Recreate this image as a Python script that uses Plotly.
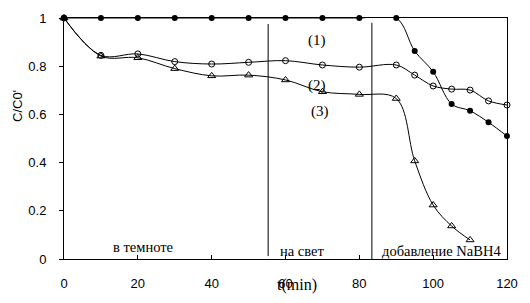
import plotly.graph_objects as go

t1 = [0, 10, 20, 30, 40, 50, 60, 70, 80, 90, 95, 100, 105, 110, 115, 120]
c1 = [1, 1, 1, 1, 1, 1, 1, 1, 1, 1, 0.863, 0.777, 0.643, 0.615, 0.567, 0.51]
t2 = [0, 10, 20, 30, 40, 50, 60, 70, 80, 90, 95, 100, 105, 110, 115, 120]
c2 = [1, 0.845, 0.851, 0.819, 0.809, 0.816, 0.823, 0.805, 0.796, 0.805, 0.763, 0.718, 0.705, 0.701, 0.656, 0.639]
t3 = [0, 10, 20, 30, 40, 50, 60, 70, 80, 90, 95, 100, 105, 110]
c3 = [1, 0.842, 0.835, 0.79, 0.76, 0.763, 0.743, 0.694, 0.683, 0.666, 0.407, 0.224, 0.137, 0.079]

x_ticks = [0, 20, 40, 60, 80, 100, 120]
y_ticks = [0, 0.2, 0.4, 0.6, 0.8, 1]
y_tick_text = ["0", "0.2", "0.4", "0.6", "0.8", "1"]

serif = "Liberation Serif, Times New Roman, serif"
sans = "Liberation Sans, Arial, sans-serif"

fig = go.Figure()
line = dict(color="black", width=1, shape="spline", smoothing=1)
fig.add_trace(go.Scatter(x=t1, y=c1, mode="lines+markers", line=line, cliponaxis=False,
                         marker=dict(symbol="circle", size=6, color="black")))
fig.add_trace(go.Scatter(x=t2, y=c2, mode="lines+markers", line=line, cliponaxis=False,
                         marker=dict(symbol="circle-open", size=6, color="black", line=dict(width=1))))
fig.add_trace(go.Scatter(x=t3, y=c3, mode="lines+markers", line=line, cliponaxis=False,
                         marker=dict(symbol="triangle-up-open", size=7, color="black", line=dict(width=1))))

fig.add_shape(type="line", x0=55.3, x1=55.3, y0=0.012, y1=0.975, xref="x", yref="y",
              line=dict(color="black", width=1))
fig.add_shape(type="line", x0=83.4, x1=83.4, y0=0, y1=0.98, xref="x", yref="y",
              line=dict(color="black", width=1))

anns = [
    ("(1)", 68.5, 0.905, 15),
    ("(2)", 68.5, 0.72, 15),
    ("(3)", 69.3, 0.61, 15),
    ("в темноте", 21.4, 0.05, 14.5),
    ("на свет", 64.5, 0.035, 14.5),
    ("добавление NaBH4", 102.2, 0.035, 14.5),
]
for txt, x, y, s in anns:
    fig.add_annotation(x=x, y=y, xref="x", yref="y", text=txt, showarrow=False,
                       font=dict(family=serif, size=s, color="black"))

# axis titles as annotations (positions relative to plot area)
fig.add_annotation(x=(297 - 64) / 443, y=-(285 - 259) / 241, xref="x domain", yref="y domain",
                   text="t(min)", showarrow=False, xanchor="center", yanchor="middle",
                   font=dict(family=serif, size=16, color="black"))
fig.add_annotation(x=-(64 - 17) / 443, y=(259 - 106) / 241, xref="x domain", yref="y domain",
                   text="C/C0'", showarrow=False, textangle=-90, xanchor="center", yanchor="middle",
                   font=dict(family=sans, size=13, color="black"))

# page body has an 8px margin; figure is sized/offset to compensate
fig.update_layout(
    width=522, height=295,
    margin=dict(l=56, r=23, t=10, b=44),
    paper_bgcolor="white", plot_bgcolor="white",
    showlegend=False,
    font=dict(family=sans, size=13, color="black"),
    xaxis=dict(range=[0, 120], tickvals=x_ticks, ticks="inside", ticklen=4, tickcolor="black",
               showline=True, linecolor="black", linewidth=1, mirror=True, showgrid=False,
               zeroline=False, ticklabelstandoff=12, automargin=False),
    yaxis=dict(range=[0, 1], tickvals=y_ticks, ticktext=y_tick_text, ticks="outside", ticklen=4,
               tickcolor="black", showline=True, linecolor="black", linewidth=1, mirror=True,
               showgrid=False, zeroline=False, ticklabelstandoff=10, automargin=False),
)
fig.write_html("out.html")
